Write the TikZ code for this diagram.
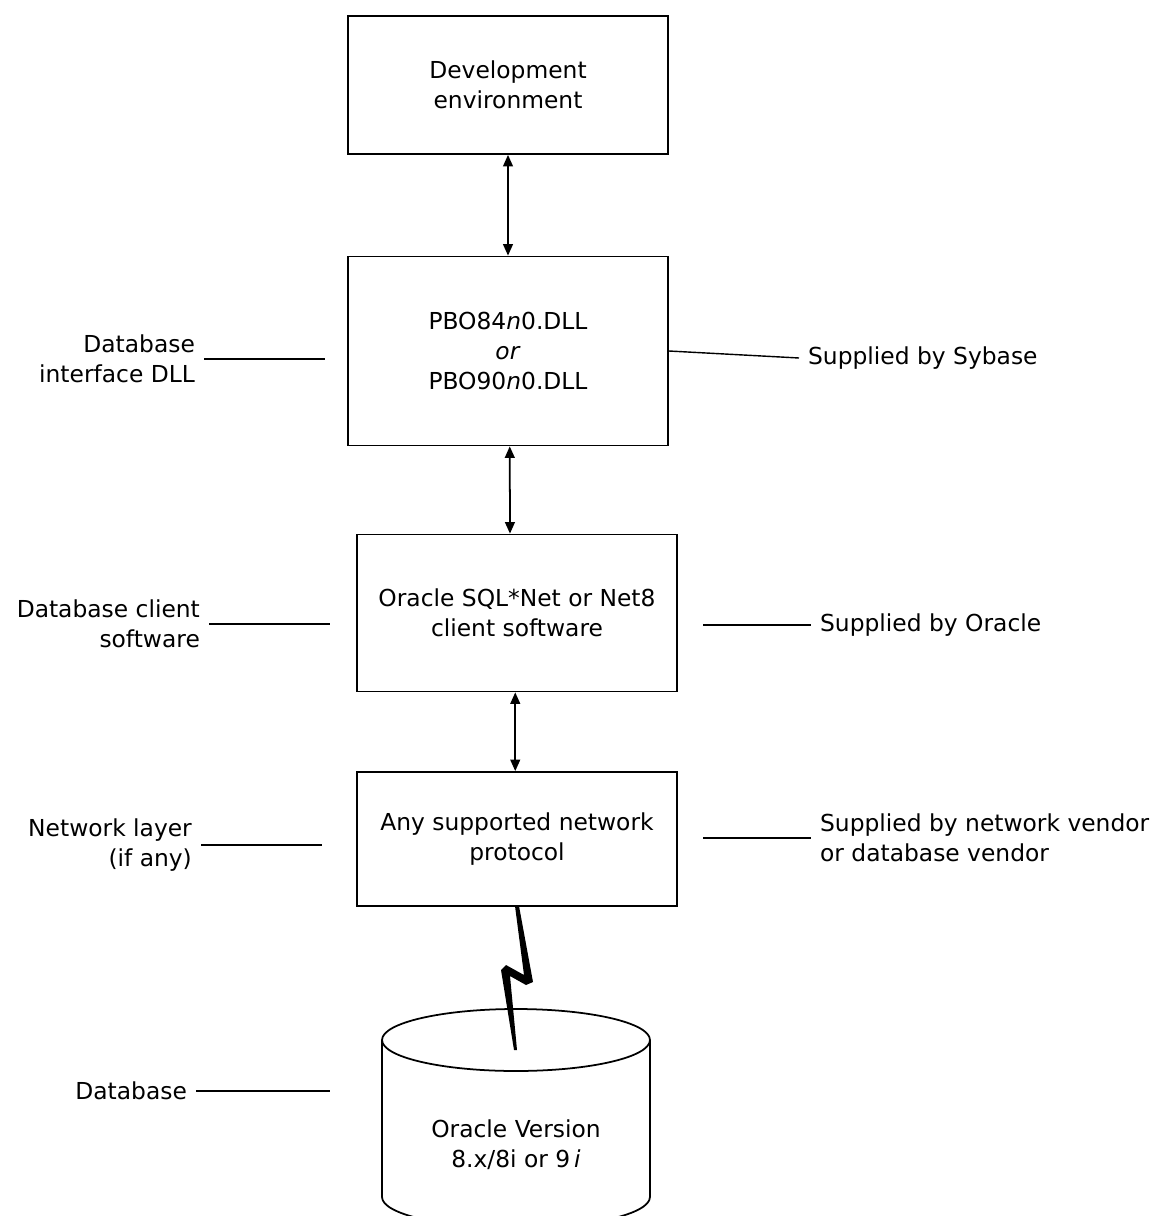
\documentclass[tikz,border=0pt]{standalone}
\usepackage{fontspec}
\setmainfont{DejaVu Sans}
\usetikzlibrary{arrows.meta,positioning,calc}

\begin{document}
\begin{tikzpicture}[
    x=0.02cm, y=-0.02cm,
    font=\fontsize{13.3}{17}\selectfont,
    layer/.style={rectangle, draw, line width=1pt, minimum width=6.4cm, align=center, inner sep=0pt},
    side/.style={align=right, inner sep=5pt},
    note/.style={align=left, inner sep=5pt},
    arrow/.style={{Triangle[length=6.5pt,width=5.5pt]}-{Triangle[length=6.5pt,width=5.5pt]}, line width=1pt},
    leader/.style={line width=0.8pt}
]
\useasboundingbox (0,0) rectangle (1155,1216);

% Nodes
\node[layer, minimum height=2.76cm] (dev) at (508,85) {Development\\environment};
\node[layer, minimum height=3.78cm] (dll) at (508,351) {PBO84\textit{n}0.DLL\\\textit{or}\\PBO90\textit{n}0.DLL};
\node[layer, minimum height=3.14cm] (client) at (517,613) {Oracle SQL*Net or Net8\\client software};
\node[layer, minimum height=2.68cm] (net) at (517,839) {Any supported network\\protocol};
\node[align=center] (db) at (516,1145) {Oracle Version\\8.x/8i or 9\,\textit{i}};

% Database cylinder
\draw[line width=1pt] (516,1040) ellipse [x radius=2.68cm, y radius=0.62cm];
\draw[line width=1pt] (382,1040) -- (382,1197) arc[start angle=180, end angle=360, x radius=2.68cm, y radius=0.62cm] -- (650,1040);

% Labels
\node[side, anchor=east] (iface) at (204,359) {Database\\interface DLL};
\node[side, anchor=east] (clientsw) at (209,624) {Database client\\software};
\node[side, anchor=east] (netlayer) at (201,845) {Network layer\\(if any)};
\node[side, anchor=east] (dbase) at (196,1091) {Database};
\node[note, anchor=west] (sybase) at (799,358) {Supplied by Sybase};
\node[note, anchor=west] (oracle) at (811,625) {Supplied by Oracle};
\node[note, anchor=west] (vendor) at (811,838) {Supplied by network vendor\\or database vendor};

\coordinate (ifaceEnd) at (325,359);
\coordinate (clientswEnd) at (330,624);
\coordinate (netlayerEnd) at (322,845);
\coordinate (dbaseEnd) at (330,1091);
\coordinate (oracleStart) at (703,625);
\coordinate (vendorStart) at (703,838);

% Arrows
\draw[arrow] (dev.south) -- (dll.north);
\draw[arrow] ([xshift=1pt]dll.south) -- ([xshift=-4pt]client.north);
\draw[arrow] ([xshift=-1pt]client.south) -- ([xshift=-1pt]net.north);

% Lightning
\fill (515,906) -- (519,906) -- (533,982) -- (526,985) -- (510,976) -- (517,1050) -- (514,1050) -- (501,970) -- (506,965) -- (524,975) -- cycle;

% Leaders
\draw[leader] (iface.east) -- (ifaceEnd);
\draw[leader] (clientsw.east) -- (clientswEnd);
\draw[leader] (netlayer.east) -- (netlayerEnd);
\draw[leader] (dbase.east) -- (dbaseEnd);
\draw[leader] (dll.east) -- (sybase.west);
\draw[leader] (oracleStart) -- (oracle.west);
\draw[leader] (vendorStart) -- (vendor.west);

\end{tikzpicture}
\end{document}
